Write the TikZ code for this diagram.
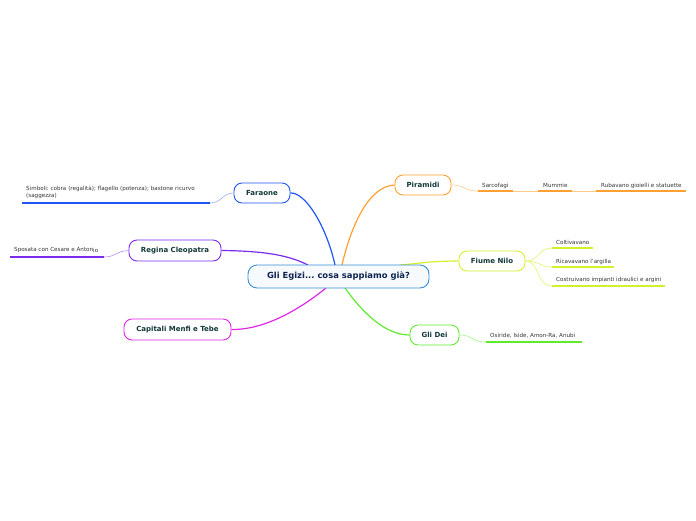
\documentclass[tikz,border=0pt]{standalone}
\usepackage{fontspec}
\setmainfont{DejaVu Sans}
\usetikzlibrary{backgrounds}
\frenchspacing
\definecolor{cfar}{HTML}{1F55F2}
\definecolor{ccle}{HTML}{7A2BEE}
\definecolor{ccap}{HTML}{E126E6}
\definecolor{cpir}{HTML}{FFA030}
\definecolor{cnil}{HTML}{D4F02A}
\definecolor{cdei}{HTML}{5EEB2E}
\definecolor{ccen}{HTML}{3A8ED4}
\definecolor{ntext}{HTML}{123838}
\definecolor{ctext}{HTML}{0E2350}
\definecolor{stext}{HTML}{333333}
\tikzset{
  topic/.style={draw=#1, line width=0.9pt, rounded corners=8pt, fill=white, text=ntext,
    font=\fontsize{7}{8}\selectfont\bfseries, inner sep=0pt, minimum height=20pt},
  subtxt/.style={text=stext, font=\fontsize{5.6}{7}\selectfont, inner sep=0pt, anchor=base west},
  uline/.style={draw=#1, line width=1.4pt},
  branch/.style={draw=#1, line width=1.2pt},
  twig/.style={draw=#1, line width=0.6pt}
}
\begin{document}
\begin{tikzpicture}[x=1pt,y=-1pt]
\useasboundingbox (0,0) rectangle (696,520);
% central
\node[draw=ccen, line width=0.9pt, rounded corners=9pt, fill=ccen!4, text=ctext,
  font=\fontsize{8.4}{10}\selectfont\bfseries, minimum width=181pt, minimum height=23pt, inner sep=0pt] (c) at (338.5,276.5) {Gli Egizi... cosa sappiamo già?};
% topics
\node[topic=cfar, minimum width=56pt] (fa) at (262,193) {Faraone};
\node[topic=ccle, minimum width=92pt, minimum height=21pt] (rc) at (175,250.5) {Regina Cleopatra};
\node[topic=ccap, minimum width=107pt, minimum height=21pt] (cap) at (177.5,329.5) {Capitali Menfi e Tebe};
\node[topic=cpir, minimum width=56pt] (pir) at (423,185) {Piramidi};
\node[topic=cnil, minimum width=66pt] (nil) at (492,261) {Fiume Nilo};
\node[topic=cdei, minimum width=49pt] (dei) at (434.5,335) {Gli Dei};
% branch anchors on central
\coordinate (cf) at (335,265);
\coordinate (cr) at (308,265);
\coordinate (cc) at (326,288);
\coordinate (cp) at (342,265);
\coordinate (cn) at (400,265);
\coordinate (cd) at (345,288);
% main branches
\begin{scope}[on background layer]
\draw[branch=cfar] (fa.east) .. controls (305,192) and (326,225) .. (cf);
\draw[branch=ccle] (rc.east) .. controls (268,251) and (290,256) .. (cr);
\draw[branch=ccap] (cap.east) .. controls (268,330) and (305,305) .. (cc);
\draw[branch=cpir] (pir.west) .. controls (370,186) and (352,222) .. (cp);
\draw[branch=cnil] (nil.west) .. controls (430,261) and (415,264) .. (cn);
\draw[branch=cdei] (dei.west) .. controls (385,335) and (362,312) .. (cd);
\end{scope}
% Faraone sub
\node[text=stext, font=\fontsize{5.6}{7}\selectfont, inner sep=0pt, anchor=north west, text width=178pt, align=left] (fs) at (26,186) {Simboli: cobra (regalità); flagello (potenza); bastone ricurvo (saggezza)};
\coordinate (fsa) at (22,203); \coordinate (fsb) at (210,203);
\draw[uline=cfar] (fsa) -- (fsb);
\draw[twig=cfar!45] (fa.west) .. controls (222,193) and (222,203) .. (fsb);
% Cleopatra sub
\node[subtxt] (rs) at (14,251.5) {Sposata con Cesare e Anton\raisebox{-1.2pt}{io}};
\coordinate (rsa) at (10,257); \coordinate (rsb) at (104,257);
\draw[uline=ccle] (rsa) -- (rsb);
\draw[twig=ccle!55] (rc.west) .. controls (116,251) and (116,257) .. (rsb);
% Piramidi subs
\node[subtxt] (p1) at (482,187) {Sarcofagi};
\coordinate (p1a) at (478,191); \coordinate (p1b) at (513,191);
\node[subtxt] (p2) at (543,187) {Mummie};
\coordinate (p2a) at (538,191); \coordinate (p2b) at (572,191);
\node[subtxt] (p3) at (601,187) {Rubavano gioielli e statuette};
\coordinate (p3a) at (596,191); \coordinate (p3b) at (686,191);
\draw[uline=cpir] (p1a) -- (p1b);
\draw[uline=cpir] (p2a) -- (p2b);
\draw[uline=cpir] (p3a) -- (p3b);
\draw[twig=cpir!55] (pir.east) .. controls (466,185) and (463,191) .. (p1a);
\draw[twig=cpir!55] (p1b) -- (p2a);
\draw[twig=cpir!55] (p2b) -- (p3a);
% Nilo subs
\node[subtxt] (n1) at (556,244) {Coltivavano};
\coordinate (n1a) at (552,248); \coordinate (n1b) at (593,248);
\node[subtxt] (n2) at (556,263) {Ricavavano l'argilla};
\coordinate (n2a) at (552,267); \coordinate (n2b) at (614,267);
\node[subtxt] (n3) at (556,281.5) {Costruivano impianti idraulici e argini};
\coordinate (n3a) at (552,286); \coordinate (n3b) at (665,286);
\draw[uline=cnil] (n1a) -- (n1b);
\draw[uline=cnil] (n2a) -- (n2b);
\draw[uline=cnil] (n3a) -- (n3b);
\draw[twig=cnil!70] (nil.east) .. controls (540,261) and (538,248) .. (n1a);
\draw[twig=cnil!70] (nil.east) .. controls (540,261) and (540,267) .. (n2a);
\draw[twig=cnil!70] (nil.east) .. controls (540,261) and (536,286) .. (n3a);
% Dei sub
\node[subtxt] (ds) at (490,337) {Osiride, Iside, Amon-Ra, Anubi};
\coordinate (dsa) at (486,342); \coordinate (dsb) at (582,342);
\draw[uline=cdei] (dsa) -- (dsb);
\draw[twig=cdei!60] (dei.east) .. controls (474,335) and (470,342) .. (dsa);
\end{tikzpicture}
\end{document}
